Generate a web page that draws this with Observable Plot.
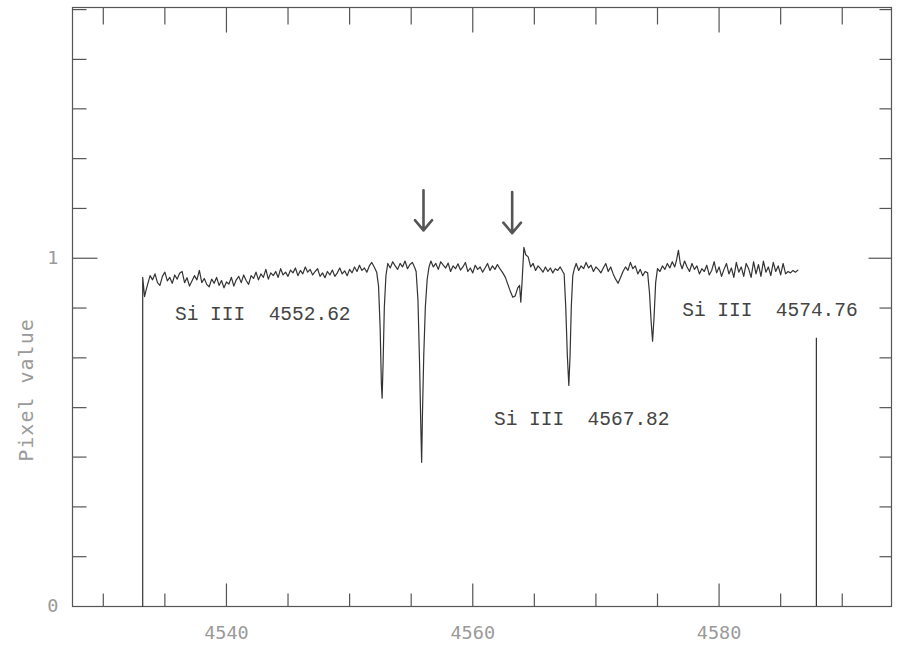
<!DOCTYPE html>
<html>
<head>
<meta charset="utf-8">
<script src="https://cdn.jsdelivr.net/npm/d3@7"></script>
<script src="https://cdn.jsdelivr.net/npm/@observablehq/plot@0.6"></script>
<style>
  html, body { margin: 0; padding: 0; background: #fff; }
  #chart { width: 898px; height: 646px; }
</style>
</head>
<body>
<div id="chart"></div>
<script>
// Wavelength (Å) and normalised pixel value of the spectrum
const wavelength = [
  4533.20, 4533.20, 4533.35, 4533.45,
  4533.60, 4533.80, 4534.00, 4534.20, 4534.40, 4534.60, 4534.80, 4535.00,
  4535.20, 4535.40, 4535.60, 4535.80, 4536.00, 4536.20, 4536.40, 4536.60,
  4536.80, 4537.00, 4537.20, 4537.40, 4537.60, 4537.80, 4538.00, 4538.20,
  4538.40, 4538.60, 4538.80, 4539.00, 4539.20, 4539.40, 4539.60, 4539.80,
  4540.00, 4540.20, 4540.40, 4540.60, 4540.80, 4541.00, 4541.20, 4541.40,
  4541.60, 4541.80, 4542.00, 4542.20, 4542.40, 4542.60, 4542.80, 4543.00,
  4543.20, 4543.40, 4543.60, 4543.80, 4544.00, 4544.20, 4544.40, 4544.60,
  4544.80, 4545.00, 4545.20, 4545.40, 4545.60, 4545.80, 4546.00, 4546.20,
  4546.40, 4546.60, 4546.80, 4547.00, 4547.20, 4547.40, 4547.60, 4547.80,
  4548.00, 4548.20, 4548.40, 4548.60, 4548.80, 4549.00, 4549.20, 4549.40,
  4549.60, 4549.80, 4550.00, 4550.20, 4550.40, 4550.60, 4550.80, 4551.00,
  4551.20, 4551.40, 4551.60, 4551.80, 4552.00,
  4552.20, 4552.35, 4552.48, 4552.58, 4552.64, 4552.72, 4552.82, 4552.95, 4553.10,
  4553.30, 4553.50, 4553.70, 4553.90, 4554.10, 4554.30, 4554.50, 4554.70,
  4554.90, 4555.10, 4555.30, 4555.40,
  4555.55, 4555.68, 4555.78, 4555.85, 4555.92, 4556.02, 4556.15, 4556.30, 4556.45,
  4556.60, 4556.80, 4557.00, 4557.20, 4557.40, 4557.60, 4557.80, 4558.00,
  4558.20, 4558.40, 4558.60, 4558.80, 4559.00, 4559.20, 4559.40, 4559.60,
  4559.80, 4560.00, 4560.20, 4560.40, 4560.60, 4560.80, 4561.00, 4561.20,
  4561.40, 4561.60, 4561.80, 4562.00, 4562.20, 4562.40,
  4562.65, 4562.85, 4563.05, 4563.25, 4563.45, 4563.65, 4563.80, 4563.90,
  4564.00, 4564.15, 4564.30, 4564.50, 4564.70,
  4564.90, 4565.10, 4565.30, 4565.50, 4565.70, 4565.90, 4566.10, 4566.30,
  4566.50, 4566.70, 4566.90, 4567.10, 4567.30, 4567.42,
  4567.55, 4567.68, 4567.80, 4567.90, 4568.00, 4568.12, 4568.25,
  4568.40, 4568.60, 4568.80, 4569.00, 4569.20, 4569.40, 4569.60, 4569.80,
  4570.00, 4570.20, 4570.40, 4570.60, 4570.80, 4571.00, 4571.20, 4571.40,
  4571.60, 4571.80, 4572.00, 4572.20, 4572.40, 4572.60, 4572.80, 4573.00,
  4573.20, 4573.40, 4573.60, 4573.80, 4574.00, 4574.20,
  4574.35, 4574.48, 4574.60, 4574.72, 4574.85, 4575.00,
  4575.20, 4575.40, 4575.60, 4575.80, 4576.00, 4576.20, 4576.40, 4576.55,
  4576.70, 4576.85, 4577.00, 4577.20, 4577.40, 4577.60, 4577.80, 4578.00,
  4578.20, 4578.40, 4578.60, 4578.80, 4579.00, 4579.20, 4579.40, 4579.60,
  4579.80, 4580.00, 4580.20, 4580.40, 4580.60, 4580.80, 4581.00, 4581.20,
  4581.40, 4581.60, 4581.80, 4582.00, 4582.20, 4582.40, 4582.60, 4582.80,
  4583.00, 4583.20, 4583.40, 4583.60, 4583.80, 4584.00, 4584.20, 4584.40,
  4584.60, 4584.80, 4585.00, 4585.20, 4585.40, 4585.60, 4585.80, 4586.00,
  4586.20, 4586.40
];
const pixelValue = [
  0.000, 0.945, 0.890, 0.905,
  0.925, 0.950, 0.938, 0.955, 0.930, 0.922, 0.948, 0.960,
  0.935, 0.945, 0.928, 0.952, 0.940, 0.957, 0.962, 0.930,
  0.944, 0.920, 0.935, 0.950, 0.938, 0.965, 0.930, 0.942,
  0.925, 0.918, 0.940, 0.928, 0.945, 0.922, 0.936, 0.915,
  0.932, 0.926, 0.945, 0.920, 0.938, 0.948, 0.930, 0.952,
  0.936, 0.925, 0.950, 0.942, 0.960, 0.938, 0.955, 0.945,
  0.968, 0.940, 0.958, 0.950, 0.962, 0.945, 0.970, 0.952,
  0.960, 0.948, 0.966, 0.958, 0.972, 0.950, 0.965, 0.955,
  0.975, 0.960, 0.968, 0.952, 0.962, 0.970, 0.948, 0.958,
  0.944, 0.962, 0.952, 0.966, 0.948, 0.958, 0.972, 0.955,
  0.964, 0.950, 0.968, 0.958, 0.975, 0.962, 0.980, 0.965,
  0.972, 0.960, 0.978, 0.988, 0.975,
  0.960, 0.920, 0.800, 0.640, 0.598, 0.700, 0.860, 0.950, 0.985,
  0.972, 0.990, 0.978, 0.968, 0.985, 0.975, 0.992, 0.970,
  0.982, 0.988, 0.972, 0.962,
  0.880, 0.700, 0.520, 0.414, 0.560, 0.720, 0.860, 0.940, 0.975,
  0.992, 0.975, 0.985, 0.968, 0.990, 0.980, 0.972, 0.986,
  0.962, 0.978, 0.970, 0.984, 0.966, 0.975, 0.988, 0.962,
  0.972, 0.958, 0.980, 0.968, 0.975, 0.960, 0.972, 0.985,
  0.965, 0.978, 0.968, 0.982, 0.970, 0.960,
  0.945, 0.925, 0.905, 0.888, 0.892, 0.915, 0.922, 0.874,
  0.930, 1.031, 1.010, 1.004, 0.975,
  0.985, 0.965, 0.978, 0.970, 0.960, 0.975, 0.962, 0.972,
  0.958, 0.970, 0.965, 0.975, 0.962, 0.955,
  0.860, 0.720, 0.635, 0.720, 0.860, 0.950, 0.970,
  0.985, 0.965, 0.978, 0.970, 0.988, 0.972, 0.980, 0.962,
  0.975, 0.968, 0.958, 0.972, 0.985, 0.962, 0.975, 0.955,
  0.940, 0.928, 0.945, 0.962, 0.975, 0.965, 0.988, 0.970,
  0.978, 0.955, 0.968, 0.950, 0.962, 0.958,
  0.900, 0.820, 0.762, 0.830, 0.930, 0.970,
  0.962, 0.978, 0.968, 0.985, 0.972, 0.990, 0.975, 0.995,
  1.023, 0.985, 0.970, 0.992, 0.975, 0.962, 0.985, 0.968,
  0.978, 0.955, 0.970, 0.962, 0.980, 0.952, 0.965, 0.990,
  0.958, 0.975, 0.948, 0.968, 0.985, 0.955, 0.972, 0.945,
  0.988, 0.960, 0.975, 0.948, 0.985, 0.970, 0.945, 0.990,
  0.955, 0.982, 0.948, 0.992, 0.960, 0.975, 0.950, 0.988,
  0.962, 0.978, 0.952, 0.985, 0.955, 0.962, 0.958, 0.965,
  0.960, 0.966
];

// Right-hand cutoff marker
const cutoffWavelength = [4587.9];
const cutoffTop = [0.77];

// Line identifications
const labelText = ["Si III  4552.62", "Si III  4567.82", "Si III  4574.76"];
const labelX = [4542.95, 4568.85, 4584.13];
const labelY = [0.842, 0.540, 0.851];

// Arrows
const arrowX = [4556.0, 4563.2];
const arrowTop = [1.195, 1.190];
const arrowTip = [1.080, 1.072];

// Axes
const xDomain = [4527.5, 4594];
const yDomain = [0, 1.72];
const xMajor = [4540, 4560, 4580];
const xMinor = [4530, 4535, 4545, 4550, 4555, 4565, 4570, 4575, 4585, 4590];
const yMajor = [0, 1];
const yTicks = [0.143, 0.286, 0.429, 0.571, 0.714, 0.857, 1, 1.143, 1.286, 1.429, 1.571, 1.714];

const spectrum = wavelength.map((w, i) => ({w, v: pixelValue[i]}));
const labels = labelText.map((t, i) => ({t, x: labelX[i], y: labelY[i]}));
const arrows = arrowX.map((x, i) => ({x, y1: arrowTop[i], y2: arrowTip[i]}));
const cutoff = cutoffWavelength.map((w, i) => ({w, top: cutoffTop[i]}));

const axisColor = "#555";
const labelColor = "#9a9a9a";

// inward tick lengths in pixels, converted to data units
const W = 898, H = 646, mL = 72, mR = 7, mT = 7, mB = 40;
const pxX = (xDomain[1] - xDomain[0]) / (W - mL - mR);
const pxY = (yDomain[1] - yDomain[0]) / (H - mT - mB);
const x0 = xDomain[0], x1 = xDomain[1], y0 = yDomain[0], y1 = yDomain[1];

const xTickRows = [
  ...xMajor.map(v => ({v, b: 23, t: 25})),
  ...xMinor.map(v => ({v, b: 13, t: 17}))
].map(d => ({v: d.v, bot1: y0, bot2: y0 + d.b * pxY, top1: y1, top2: y1 - d.t * pxY}));
const yTickRows = yTicks.map(v => {
  const major = v === 1;
  const l = major ? 25 : 14, r = major ? 23 : 12;
  return {v, l1: x0, l2: x0 + l * pxX, r1: x1, r2: x1 - r * pxX};
});

const tickStyle = {stroke: axisColor, strokeWidth: 1.2};

const chart = Plot.plot({
  width: W,
  height: H,
  marginLeft: mL,
  marginRight: mR,
  marginTop: mT,
  marginBottom: mB,
  x: {domain: xDomain, axis: null},
  y: {domain: yDomain, axis: null},
  style: {background: "#fff", overflow: "visible"},
  marks: [
    Plot.link(xTickRows, {x1: "v", x2: "v", y1: "bot1", y2: "bot2", ...tickStyle}),
    Plot.link(xTickRows, {x1: "v", x2: "v", y1: "top1", y2: "top2", ...tickStyle}),
    Plot.link(yTickRows, {y1: "v", y2: "v", x1: "l1", x2: "l2", ...tickStyle}),
    Plot.link(yTickRows, {y1: "v", y2: "v", x1: "r1", x2: "r2", ...tickStyle}),
    Plot.frame({stroke: axisColor, strokeWidth: 1.2}),
    // tick labels
    Plot.axisX({anchor: "bottom", ticks: xMajor, tickSize: 0, tickPadding: 19, tickFormat: d => String(d),
      label: null, fill: labelColor, fontFamily: "DejaVu Sans Mono", fontSize: 18.5}),
    Plot.axisY({anchor: "left", ticks: yMajor, tickSize: 0, tickPadding: 14, tickFormat: d => String(d),
      label: null, fill: labelColor, fontFamily: "DejaVu Sans Mono", fontSize: 18.5}),
    // spectrum
    Plot.line(spectrum, {x: "w", y: "v", stroke: "#333", strokeWidth: 1.2, curve: "linear"}),
    Plot.ruleX(cutoff, {x: "w", y1: 0, y2: "top", stroke: "#333", strokeWidth: 1.2}),
    // arrows
    Plot.arrow(arrows, {x1: "x", y1: "y1", x2: "x", y2: "y2", stroke: "#555", strokeWidth: 2.6,
      headLength: 14, headAngle: 80}),
    // labels
    Plot.text(labels, {x: "x", y: "y", text: "t", fill: "#444", fontFamily: "Liberation Mono",
      fontSize: 19.5, textAnchor: "middle"})
  ]
});

// y-axis title
const svg = d3.select(chart);
svg.append("text")
  .attr("transform", "translate(27,390) rotate(-90)")
  .attr("text-anchor", "middle")
  .attr("dominant-baseline", "middle")
  .attr("fill", labelColor)
  .attr("font-family", "DejaVu Sans Mono")
  .attr("font-size", 20)
  .attr("letter-spacing", 1)
  .text("Pixel value");

document.getElementById("chart").appendChild(chart);
</script>
</body>
</html>
